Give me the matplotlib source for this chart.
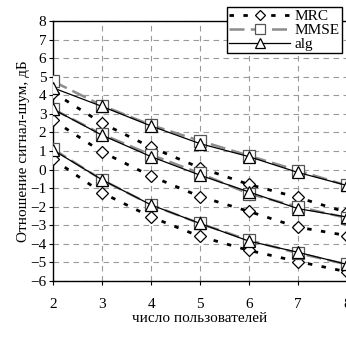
import matplotlib
matplotlib.use("Agg")
import matplotlib.pyplot as plt

users = [2, 3, 4, 5, 6, 7, 8]
mrc1 = [4.15, 2.5, 1.2, 0.1, -0.8, -1.5, -2.3]
mmse1 = [4.75, 3.45, 2.4, 1.55, 0.75, -0.05, -0.85]
alg1 = [4.4, 3.4, 2.35, 1.4, 0.7, -0.15, -0.85]
mrc2 = [2.65, 0.95, -0.35, -1.45, -2.25, -3.1, -3.55]
mmse2 = [3.25, 1.9, 0.8, -0.2, -1.3, -2.0, -2.6]
alg2 = [3.25, 1.85, 0.7, -0.3, -1.2, -2.1, -2.55]
mrc3 = [0.55, -1.25, -2.55, -3.6, -4.35, -4.95, -5.5]
mmse3 = [1.1, -0.55, -1.9, -2.9, -3.8, -4.5, -5.1]
alg3 = [1.05, -0.55, -1.9, -2.9, -3.85, -4.45, -5.1]
yticks = list(range(-6, 9))

plt.rcParams['font.family'] = ['Liberation Serif', 'DejaVu Serif']

fig = plt.figure(figsize=(3.46, 3.38), dpi=100)
ax = fig.add_axes([0.154, 0.1686, 0.848, 0.769])

mrc_style = dict(color='black', lw=2.0, linestyle=(0, (1.6, 3.4)), marker='D', ms=6.5,
                 mfc='white', mec='black', mew=0.9)
mmse_style = dict(color='#8c8c8c', lw=1.8, linestyle=(0, (6, 2.5)), marker='s', ms=8,
                  mfc='white', mec='#555555', mew=0.9)
alg_style = dict(color='black', lw=0.9, linestyle='-', marker='^', ms=8,
                 mfc='white', mec='black', mew=0.9)

for i, (m, s, a) in enumerate([(mrc1, mmse1, alg1), (mrc2, mmse2, alg2), (mrc3, mmse3, alg3)]):
    ax.plot(users, m, label='MRC' if i == 0 else None, zorder=3, **mrc_style)
    ax.plot(users, s, label='MMSE' if i == 0 else None, zorder=4, **mmse_style)
    ax.plot(users, a, label='alg' if i == 0 else None, zorder=5, **alg_style)

ax.set_xlim(2, 8)
ax.set_ylim(-6, 8)
ax.set_xticks(users)
ax.set_yticks(yticks)
ax.grid(True, color='#9a9a9a', linestyle=(0, (5, 4)), lw=0.8)
ax.set_axisbelow(True)
for sp in ax.spines.values():
    sp.set_color('black')
    sp.set_linewidth(1.0)
ax.tick_params(axis='both', direction='out', length=3, width=0.8, labelsize=11, colors='black')
ax.tick_params(axis='x', pad=9)
ax.tick_params(axis='y', pad=2)

ax.set_xlabel('число пользователей', fontsize=11, labelpad=1)
ax.set_ylabel('Отношение сигнал-шум, дБ', fontsize=11, labelpad=0)

leg = fig.legend(loc='upper left', bbox_to_anchor=(227 / 346, 1 - 7 / 338), fontsize=11,
                 frameon=True, fancybox=False, edgecolor='black', framealpha=1,
                 handlelength=4.0, handletextpad=0.3, borderpad=0.15, labelspacing=0.02,
                 borderaxespad=0, markerscale=0.85)
leg.get_frame().set_linewidth(1.0)

fig.savefig('out.png', dpi=100)
